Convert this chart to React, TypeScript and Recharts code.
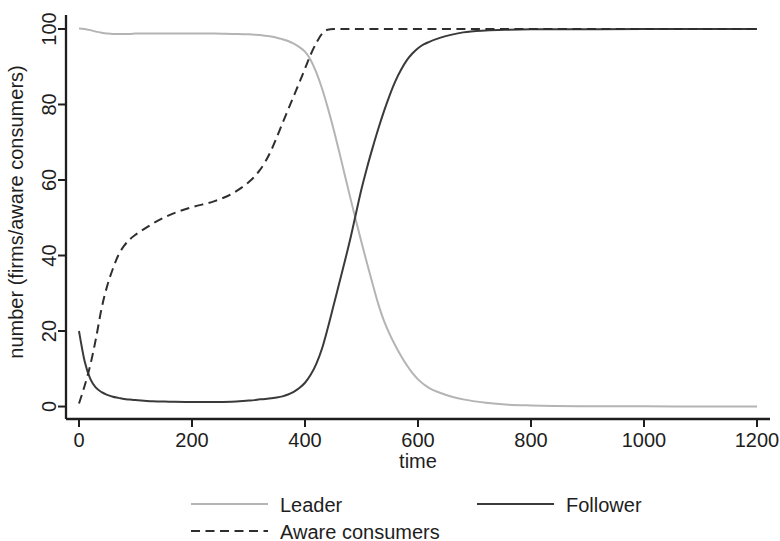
import { LineChart, Line, XAxis, YAxis, Legend } from "recharts";

// simulation output sampled on a common time grid (denser through the transition)
const time = [
  0, 10, 20, 30, 40, 50, 60, 70, 80, 90, 100, 115, 130, 160, 200, 240, 270,
  300, 310, 320, 330, 340, 350, 360, 370, 380, 390, 400,
  410, 420, 430, 440, 450, 460, 470, 480, 490, 500,
  510, 520, 530, 540, 550, 560, 570, 580, 590, 600, 610, 620,
  640, 660, 680, 720, 760, 800, 900, 1000, 1100, 1200,
];

const leader = [
  100.1, 100, 99.7, 99.3, 99.0, 98.8, 98.7, 98.7, 98.7, 98.7, 98.8, 98.8, 98.8, 98.8, 98.8, 98.8, 98.7,
  98.6, 98.5, 98.4, 98.2, 98.0, 97.7, 97.3, 96.8, 96.1, 95.2, 94.0,
  91.8, 88.5, 84.3, 79.3, 73.8, 67.8, 61.6, 55.4, 49.4, 43.5,
  37.8, 32.3, 27.0, 22.6, 19.1, 16.1, 13.4, 11.0, 8.9, 7.2, 5.9, 4.9,
  3.6, 2.6, 1.9, 1.0, 0.5, 0.3, 0.1, 0.05, 0, 0,
];

const follower = [
  20, 12, 7.3, 5, 3.8, 3.1, 2.6, 2.3, 2.0, 1.85, 1.7, 1.55, 1.4, 1.3, 1.2, 1.2, 1.3,
  1.6, 1.7, 1.9, 2.0, 2.2, 2.4, 2.7, 3.2, 3.9, 4.9, 6.3,
  8.4, 11.3, 15.3, 20.6, 26.4, 32.3, 38.2, 44.3, 51, 57.6,
  63.4, 68.7, 73.7, 78.3, 82.5, 86.2, 89.2, 91.7, 93.5, 94.9, 95.9, 96.6,
  97.7, 98.5, 99.1, 99.6, 99.8, 99.9, 99.95, 100, 100, 100,
];

const aware = [
  0.8, 5.5, 11, 18, 26, 32, 36.5, 40.2, 42.6, 44.3, 45.5, 47, 48.4, 50.7, 52.8, 54.4, 56.3,
  59.4, 60.8, 62.6, 64.9, 67.8, 71.3, 75, 78.6, 82.2, 85.8, 89.5,
  93.2, 96.3, 98.7, 99.8, 100, 100, 100, 100, 100, 100,
  100, 100, 100, 100, 100, 100, 100, 100, 100, 100, 100, 100,
  100, 100, 100, 100, 100, 100, 100, 100, 100, 100,
];

const xTicks = [0, 200, 400, 600, 800, 1000, 1200];
const yTicks = [0, 20, 40, 60, 80, 100];

const data = time.map((t, i) => ({
  t,
  leader: leader[i],
  follower: follower[i],
  aware: aware[i],
}));

const FONT = "'Liberation Sans', Arial, Helvetica, sans-serif";
const INK = "#1e1e1e";
const LEADER = "#b4b4b4";
const FOLLOWER = "#3a3a3a";
const AWARE = "#2e2e2e";
const DASH = "9 5.5";

function YTick({ x, y, payload }: any) {
  return (
    <text
      x={x}
      y={y}
      transform={`rotate(-90, ${x}, ${y})`}
      textAnchor="middle"
      fontFamily={FONT}
      fontSize={20}
      fill={INK}
    >
      {payload.value}
    </text>
  );
}

function YTitle({ viewBox }: any) {
  const x = viewBox.x + 23;
  const y = viewBox.y + viewBox.height / 2 - 5;
  return (
    <text
      x={x}
      y={y}
      transform={`rotate(-90, ${x}, ${y})`}
      textAnchor="middle"
      fontFamily={FONT}
      fontSize={20}
      fill={INK}
    >
      number (firms/aware consumers)
    </text>
  );
}

function XTitle({ viewBox }: any) {
  return (
    <text
      x={viewBox.x + viewBox.width / 2}
      y={viewBox.y + 49}
      textAnchor="middle"
      fontFamily={FONT}
      fontSize={20}
      fill={INK}
    >
      time
    </text>
  );
}

// two-row key: Leader / Follower on top, Aware consumers below
function KeyBox() {
  const item = (x: number, y: number, color: string, label: string, dash?: string) => (
    <g key={label}>
      <line x1={x} x2={x + 77} y1={y} y2={y} stroke={color} strokeWidth={2} strokeDasharray={dash} />
      <text x={x + 89} y={y + 7.5} fontFamily={FONT} fontSize={20} fill={INK}>
        {label}
      </text>
    </g>
  );
  return (
    <svg width={780} height={61} style={{ display: "block", overflow: "visible" }}>
      {item(191, 24, LEADER, "Leader")}
      {item(477, 24, FOLLOWER, "Follower")}
      {item(191, 51, AWARE, "Aware consumers", DASH)}
    </svg>
  );
}

export default function App() {
  return (
    <div style={{ position: "absolute", left: 0, top: 0, background: "#fff" }}>
      <LineChart
        width={780}
        height={541}
        data={data}
        margin={{ top: 15, right: 10, bottom: 0, left: 0 }}
      >
        <XAxis
          dataKey="t"
          type="number"
          domain={[-23, 1223]}
          ticks={xTicks}
          height={61}
          tickSize={8}
          tickMargin={6}
          interval={0}
          axisLine={{ stroke: INK, strokeWidth: 2.3 }}
          tickLine={{ stroke: INK, strokeWidth: 2 }}
          tick={{ fontFamily: FONT, fontSize: 20, fill: INK }}
          label={<XTitle />}
        />
        <YAxis
          type="number"
          domain={[-3.3, 103.7]}
          ticks={yTicks}
          width={66}
          tickSize={8}
          tickMargin={2}
          interval={0}
          allowDataOverflow
          axisLine={{ stroke: INK, strokeWidth: 2.3 }}
          tickLine={{ stroke: INK, strokeWidth: 2 }}
          tick={<YTick />}
          label={<YTitle />}
        />
        <Legend
          verticalAlign="bottom"
          content={<KeyBox />}
          wrapperStyle={{ left: 0, top: 480, width: 780, height: 61 }}
        />
        <Line
          type="monotone"
          dataKey="leader"
          stroke={LEADER}
          strokeWidth={2}
          dot={false}
          isAnimationActive={false}
        />
        <Line
          type="monotone"
          dataKey="follower"
          stroke={FOLLOWER}
          strokeWidth={2}
          dot={false}
          isAnimationActive={false}
        />
        <Line
          type="monotone"
          dataKey="aware"
          stroke={AWARE}
          strokeWidth={2}
          strokeDasharray={DASH}
          dot={false}
          isAnimationActive={false}
        />
      </LineChart>
    </div>
  );
}
